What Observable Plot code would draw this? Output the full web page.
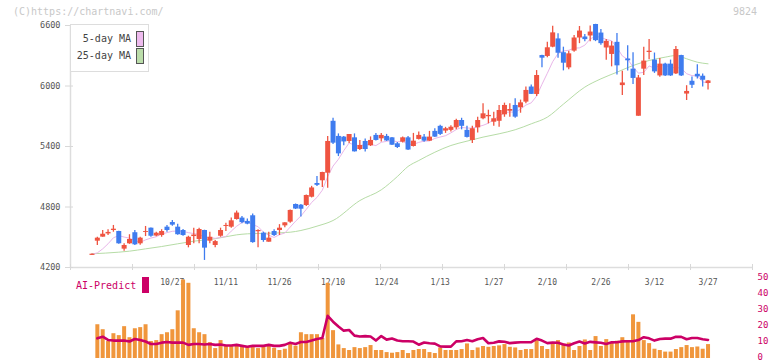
<!DOCTYPE html>
<html><head><meta charset="utf-8">
<script src="https://cdn.jsdelivr.net/npm/d3@7"></script>
<script src="https://cdn.jsdelivr.net/npm/@observablehq/plot@0.6"></script>
<style>
html,body{margin:0;padding:0;background:#fff;}
#chart{position:relative;width:772px;height:361px;overflow:hidden;font-family:"DejaVu Sans Mono",monospace;background:#fff;}
#chart .layer{position:absolute;left:0;top:0;width:772px;height:361px;}
#chart .layer svg{display:block;max-width:none;}
.txt{position:absolute;white-space:pre;font-size:10px;line-height:12px;}
</style></head><body>
<div id="chart"></div>
<script>
// ---- data ----
const opens = [4320,4461,4501,4533,4567,4557,4382,4435,4545,4435, 4548,4590,4512,4517,4600,4646,4600,4567,4418,4507, 4478,4567,4461,4418,4510,4607,4600,4676,4690,4657, 4713,4555,4540,4451,4557,4567,4613,4650,4825,4818, 4815,4897,5033,5060,5135,5650,5500,5493,5450,5486, 5370,5450,5407,5510,5476,5500,5486,5427,5443,5486, 5400,5470,5493,5453,5550,5600,5553,5560,5585,5658, 5560,5460,5585,5675,5695,5641,5650,5714,5750,5807, 5784,5840,5990,5916,6302,6293,6385,6467,6330,6180, 6346,6476,6486,6496,6610,6525,6377,6313,6433,6004, 6268,6167,5700,6167,6332,6257,6100,6217,6217,6120, 6302,5920,6047,6116,6097,6025];
const highs = [4335,4501,4567,4575,4617,4560,4435,4525,4567,4500, 4607,4592,4550,4575,4617,4666,4630,4577,4510,4590, 4590,4570,4550,4467,4590,4640,4690,4760,4705,4680, 4730,4574,4550,4550,4575,4625,4645,4770,4830,4825, 4920,5005,5102,5145,5500,5680,5525,5500,5520,5525, 5460,5475,5495,5530,5530,5520,5490,5440,5495,5500, 5530,5545,5520,5550,5575,5610,5590,5605,5670,5680, 5600,5600,5690,5825,5760,5740,5807,5830,5823,5873, 5860,5990,6010,6153,6305,6435,6593,6517,6385,6345, 6500,6590,6510,6595,6612,6560,6460,6440,6520,6147, 6400,6330,6105,6385,6462,6327,6273,6225,6257,6392, 6305,6003,6090,6210,6120,6055];
const lows = [4318,4418,4500,4518,4550,4430,4362,4430,4418,4420, 4507,4500,4505,4500,4550,4610,4520,4510,4395,4435, 4435,4270,4435,4395,4500,4557,4590,4670,4633,4625, 4440,4395,4450,4450,4507,4517,4595,4640,4775,4700, 4805,4890,5003,4993,4985,5420,5300,5407,5430,5345, 5360,5345,5400,5455,5445,5450,5410,5380,5435,5360, 5395,5465,5443,5450,5490,5510,5530,5545,5565,5565, 5485,5430,5535,5665,5625,5600,5590,5690,5690,5680, 5730,5825,5915,5896,6180,6280,6380,6275,6150,6160, 6335,6420,6440,6440,6440,6405,6255,6190,6110,5906, 6150,6015,5700,6104,6260,6125,6087,6095,6095,6115, 6094,5856,5975,6070,5990,5960];
const closes = [4332,4491,4530,4548,4580,4435,4418,4478,4425,4491, 4557,4510,4540,4557,4567,4620,4525,4517,4500,4522, 4577,4392,4500,4457,4567,4617,4663,4740,4645,4630, 4447,4567,4468,4491,4517,4590,4643,4766,4780,4778, 4914,4989,5015,5142,5450,5433,5327,5445,5519,5347, 5410,5370,5460,5460,5510,5455,5413,5390,5486,5365, 5453,5510,5453,5493,5493,5520,5576,5591,5658,5600, 5490,5576,5658,5724,5708,5675,5757,5807,5767,5691, 5833,5956,5917,6104,6276,6379,6527,6325,6226,6319, 6476,6545,6460,6535,6450,6420,6443,6396,6200,6030, 6250,6075,6080,6247,6345,6140,6217,6100,6100,6362, 6100,5946,6007,6090,6057,6050];
const ma5 = [4332,4345,4385,4435,4495,4516,4502,4491,4467,4449, 4474,4492,4505,4531,4546,4559,4562,4557,4546,4536, 4528,4501,4498,4489,4499,4507,4561,4609,4646,4659, 4625,4605,4551,4520,4498,4526,4542,4601,4659,4711, 4776,4845,4895,4967,5102,5206,5273,5359,5435,5414, 5410,5418,5421,5409,5442,5451,5460,5446,5451,5422, 5421,5441,5453,5455,5480,5494,5507,5535,5568,5589, 5583,5583,5596,5610,5631,5668,5704,5734,5743,5739, 5771,5811,5833,5900,6017,6126,6241,6322,6347,6355, 6375,6378,6405,6467,6493,6482,6462,6449,6382,6298, 6264,6190,6127,6136,6199,6177,6206,6210,6180,6184, 6176,6122,6103,6101,6040,6030];
const ma25Index = [0,5,7,10,13,16,19,23,27,29,33,37,39,42,45,50,54,57,59,61,64,67,70,73,76,79,82,85,88,92,95,98,101,104,107,109,111,113,115];
const ma25Value = [4336,4352,4362,4385,4408,4435,4461,4485,4524,4534,4540,4550,4567,4610,4666,4864,4970,5102,5202,5261,5343,5410,5453,5493,5526,5566,5625,5691,5820,5989,6071,6137,6203,6253,6286,6302,6270,6236,6220];
// volume and AI-Predict start at the 2nd candle
const volume = [21.1,18.0,10.6,15.5,14.3,19.9,13.0,18.6,19.3,21.1, 10.6,11.2,14.9,16.1,18.0,29.8,49.1,47.0,18.6,16.1, 14.9,9.9,6.2,11.2,8.1,7.7,7.7,7.0,7.0,8.1, 6.2,7.0,8.1,6.4,5.0,5.8,9.5,7.7,16.1,14.9, 14.9,14.9,12.5,47.0,17.4,8.5,6.2,5.0,6.8,6.2, 6.8,8.1,5.0,5.0,3.7,3.3,3.7,5.0,3.1,5.0, 5.6,5.6,3.7,3.1,6.6,5.0,5.0,5.0,5.6,9.1, 5.0,6.6,7.5,7.0,7.5,7.9,8.7,7.0,6.6,5.0, 5.6,5.6,11.2,7.5,5.6,9.1,11.2,9.1,9.7,5.0, 7.5,11.6,5.0,13.7,7.5,11.8,9.5,10.8,13.0,10.8, 27.3,22.6,11.2,9.3,5.8,5.0,4.0,4.0,5.6,6.8, 8.1,6.8,7.2,5.8,8.7];
const aiPredict = [12.6,13.6,11.6,11.2,11.2,11.2,10.6,12.2,11.6,10.6, 9.1,9.1,9.9,10.3,9.9,9.9,9.9,8.5,9.1,9.1, 8.7,9.1,8.5,8.7,8.1,8.1,8.5,7.9,7.3,7.9, 7.9,7.9,8.5,7.9,7.9,8.5,9.9,9.1,10.3,10.3, 11.2,12.2,12.8,26.7,23.0,20.0,17.4,17.8,14.3,13.7, 14.0,13.7,11.2,14.0,11.8,12.5,11.2,10.8,10.8,10.6, 8.6,10.0,9.5,9.3,7.6,7.4,7.4,10.7,10.8,11.6, 10.8,12.0,12.8,9.5,9.8,10.7,10.5,9.6,9.9,10.2, 10.2,10.2,12.3,11.2,9.6,9.9,9.8,8.7,8.1,9.5, 10.6,9.4,10.4,10.1,9.8,9.1,10.1,10.2,10.7,10.8, 10.8,11.5,13.3,12.6,11.2,12.2,12.4,12.4,13.6,13.5, 12.0,12.8,12.8,12.0,11.6];
const dateLabels = ["10/27","11/11","11/26","12/10","12/24","1/13","1/27","2/10","2/26","3/12","3/27"];
const dateLabelIndex = [15,25,35,45,55,65,75,85,95,105,115];
const priceTicks = [4200,4800,5400,6000,6600];
const subTicks = [0,10,20,30,40,50];

// ---- tables ----
const RED = "#ef5441", BLUE = "#3f7cef";
const candles = opens.map((o, i) => ({i, o, h: highs[i], l: lows[i], c: closes[i], col: closes[i] >= o ? RED : BLUE}));
const ma5Rows = ma5.map((v, i) => ({i, v}));
const ma25Rows = ma25Index.map((i, k) => ({i, v: ma25Value[k]}));
const volRows = volume.map((v, k) => ({i: k + 1, v}));
const aiRows = aiPredict.map((v, k) => ({i: k + 1, v}));

const xDomain = [-4.01, 123.3];
const gridTicks = d3.range(12).map(k => xDomain[0] + k * (xDomain[1] - xDomain[0]) / 11);
const MONO = '"DejaVu Sans Mono", monospace';

const main = Plot.plot({
  width: 772, height: 361,
  marginLeft: 70, marginRight: 20, marginTop: 25, marginBottom: 94,
  x: {domain: xDomain, axis: null},
  y: {domain: [4200, 6600], axis: null},
  color: {type: "identity"},
  style: {fontFamily: MONO, background: "transparent", overflow: "visible"},
  marks: [
    Plot.ruleX([xDomain[0]], {stroke: "#dddddd", strokeWidth: 1.5}),
    Plot.ruleY([4200], {stroke: "#dddddd", strokeWidth: 1.5}),
    Plot.axisY(priceTicks, {anchor: "left", tickSize: 8, dx: 3, stroke: "#d8d8d8", fill: "none", label: null}),
    Plot.axisY(priceTicks, {anchor: "left", tickSize: 0, tickPadding: 10, fill: "#555", fontSize: 8.5, tickFormat: d => String(d), label: null}),
    Plot.axisX(gridTicks, {anchor: "bottom", tickSize: 6, dy: -3, stroke: "#d8d8d8", fill: "none", label: null}),
    Plot.axisX(dateLabelIndex, {anchor: "bottom", tickSize: 0, tickPadding: 12, fill: "#555", fontSize: 8, tickFormat: d => dateLabels[dateLabelIndex.indexOf(d)], label: null}),
    Plot.line(ma25Rows, {x: "i", y: "v", stroke: "#b6dca6", strokeWidth: 1, curve: "monotone-x"}),
    Plot.line(ma5Rows, {x: "i", y: "v", stroke: "#e9b6e9", strokeWidth: 1}),
    Plot.ruleX(candles, {x: "i", y1: "l", y2: "h", stroke: "col", strokeWidth: 1.3}),
    Plot.ruleX(candles, {x: "i", y1: "o", y2: "c", stroke: "col", strokeWidth: 5})
  ]
});

const sub = Plot.plot({
  width: 772, height: 361,
  marginLeft: 70, marginRight: 20, marginTop: 278, marginBottom: 3,
  x: {domain: xDomain, axis: null},
  y: {domain: [0, 50], axis: null},
  style: {fontFamily: MONO, background: "transparent", overflow: "visible"},
  marks: [
    Plot.ruleX(volRows, {x: "i", y1: 0, y2: "v", stroke: "#f0963c", strokeWidth: 4}),
    Plot.line(aiRows, {x: "i", y: "v", stroke: "#cc0066", strokeWidth: 2.6}),
    Plot.axisY(subTicks, {anchor: "right", tickSize: 0, tickPadding: 5, fill: "#cc0066", fontSize: 9, dy: -1.5, tickFormat: d => String(d), label: null})
  ]
});

const chart = document.getElementById("chart");
function layer(node) { const d = document.createElement("div"); d.className = "layer"; d.appendChild(node); chart.appendChild(d); }
layer(main);
layer(sub);

function txt(s, css, color) {
  const e = document.createElement("div");
  e.className = "txt"; e.textContent = s; e.style.cssText += css; e.style.color = color;
  chart.appendChild(e); return e;
}
txt("(C)https://chartnavi.com/", "left:13px;top:6px;", "#c8c8c8");
txt("9824", "right:15px;top:6px;", "#c8c8c8");

// legend box
const lg = document.createElement("div");
lg.style.cssText = "position:absolute;left:70px;top:24px;width:79px;height:48px;border:1px solid #dddddd;background:#fff;box-sizing:border-box;";
chart.appendChild(lg);
function lgText(s, top) { const e = document.createElement("div"); e.className = "txt"; e.textContent = s; e.style.cssText += "right:17px;top:" + top + "px;color:#444;"; lg.appendChild(e); }
function lgSw(color, top) { const e = document.createElement("div"); e.style.cssText = "position:absolute;left:65px;top:" + top + "px;width:8px;height:16px;box-sizing:border-box;border:1px solid #555;background:" + color + ";"; lg.appendChild(e); }
lgText("5-day MA", 8); lgText("25-day MA", 25);
lgSw("#eebbee", 6); lgSw("#bbddaa", 23);

txt("AI-Predict", "left:76px;top:280px;", "#cc0066");
const sw = document.createElement("div");
sw.style.cssText = "position:absolute;left:142px;top:277px;width:7px;height:16px;background:#cc0066;";
chart.appendChild(sw);
</script>
</body></html>
